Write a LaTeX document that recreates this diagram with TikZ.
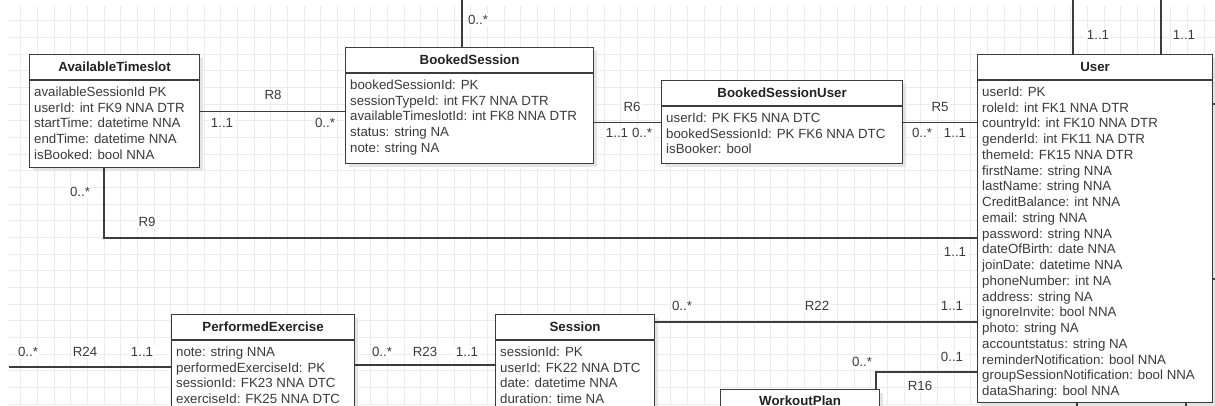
\documentclass[tikz,border=0pt]{standalone}
\usepackage{fontspec}
\setmainfont{Liberation Sans}
\usetikzlibrary{calc}
\definecolor{gridc}{HTML}{EBEBEB}
\definecolor{edgec}{HTML}{3C3C3C}
\definecolor{txtc}{HTML}{3A3A3A}
\definecolor{hdrc}{HTML}{222222}
\definecolor{shadc}{HTML}{E4E4E4}

% entity box: name, x, y, width, height, title, attribute rows
\newcommand\erbox[7]{%
  \fill[shade] ($(#2,#3)+(4,4)$) rectangle ++(#4,#5);
  \node[entity, minimum width=#4, minimum height=#5] (#1) at (#2,#3) {};
  \draw[conn] ($(#1.north west)+(0,26)$) -- ($(#1.north east)+(0,26)$);
  \node[hdr] (#1-h) at ($(#1.north)+(0,17.8)$) {#6};
  \foreach \t [count=\i from 0] in {#7}
    \node[attr] (#1-\i) at ($(#1.north west)+(5,{42.3+15.75*\i})$) {\t};
}

\begin{document}
\begin{tikzpicture}[x=1pt,y=-1pt,
  font=\fontsize{13.3}{15}\selectfont,
  gridline/.style={draw=gridc, line width=0.8pt},
  entity/.style={draw=edgec, line width=1.2pt, fill=white, rectangle, inner sep=0pt, anchor=north west},
  shade/.style={fill=shadc, draw=none},
  hdr/.style={font=\fontsize{13.3}{15}\selectfont\bfseries, text=hdrc, anchor=base, inner sep=0pt},
  attr/.style={text=txtc, anchor=base west, inner sep=0pt},
  conn/.style={draw=edgec, line width=1.2pt},
  lbl/.style={text=txtc, fill=white, inner sep=1.5pt, text height=9.5pt, text depth=0pt}]

\useasboundingbox (0,0) rectangle (1215,405);
\clip (0,0) rectangle (1215,405);
\fill[white] (0,0) rectangle (1215,405);

% background grid
\foreach \k in {0,...,72}
  \draw[gridline] ({20.7+16.667*\k},6) -- ({20.7+16.667*\k},405);
\foreach \k in {0,...,23}
  \draw[gridline] (9,{20.7+16.667*\k}) -- (1215,{20.7+16.667*\k});

% entities
\erbox{avail}{29}{54}{170}{113}{AvailableTimeslot}{availableSessionId PK, userId: int FK9 NNA DTR, startTime: datetime NNA, endTime: datetime NNA, isBooked: bool NNA}
\erbox{booked}{345}{47}{248}{116}{BookedSession}{bookedSessionId: PK, sessionTypeId: int FK7 NNA DTR, availableTimeslotId: int FK8 NNA DTR, status: string NA, note: string NA}
\erbox{bsu}{661}{80}{241}{83}{BookedSessionUser}{userId: PK FK5 NNA DTC, bookedSessionId: PK FK6 NNA DTC, isBooker: bool}
\erbox{user}{977}{54}{235}{348}{User}{userId: PK, roleId: int FK1 NNA DTR, countryId: int FK10 NNA DTR, genderId: int FK11 NA DTR, themeId: FK15 NNA DTR, firstName: string NNA, lastName: string NNA, CreditBalance: int NNA, email: string NNA, password: string NNA, dateOfBirth: date NNA, joinDate: datetime NNA, phoneNumber: int NA, address: string NA, ignoreInvite: bool NNA, photo: string NA, accountstatus: string NA, reminderNotification: bool NNA, groupSessionNotification: bool NNA, dataSharing: bool NNA}
\erbox{perf}{171}{314}{183}{120}{PerformedExercise}{note: string NNA, performedExerciseId: PK, sessionId: FK23 NNA DTC, exerciseId: FK25 NNA DTC}
\erbox{session}{495}{314}{159}{120}{Session}{sessionId: PK, userId: FK22 NNA DTC, date: datetime NNA, duration: time NA}
\fill[shade] (724,393) rectangle ++(159,100);
\node[entity, minimum width=159, minimum height=100] (workout) at (720,389) {};
\node[hdr] (workout-h) at ($(workout.north)+(0,16.5)$) {WorkoutPlan};

% relationship anchors
\coordinate (r9) at (104,238);
\coordinate (r22) at (0,322);
\coordinate (r16) at (876,372);
\coordinate (r23) at (0,365);
\coordinate (r24) at (9,367);
\coordinate (bsup) at (462,-3);
\coordinate (uup1) at (1073,-3);
\coordinate (uup2) at (1161,-3);
\coordinate (udn1) at (1077,410);
\coordinate (udn2) at (1186,410);
\coordinate (urt1) at (1220,104);
\coordinate (urt2) at (1220,279);

% connectors
\draw[conn] (avail.east) -- (avail.east -| booked.west);
\draw[conn] (bsu.west -| booked.east) -- (bsu.west);
\draw[conn] (bsu.east) -- (bsu.east -| user.west);
\draw[conn] (avail.south -| r9) -- (r9) -- (r9 -| user.west);
\draw[conn] (r22 -| session.east) -- (r22 -| user.west);
\draw[conn] (r16 -| user.west) -- (r16) -- (r16 |- workout.north);
\draw[conn] (r23 -| perf.east) -- (r23 -| session.west);
\draw[conn] (r24) -- (r24 -| perf.west);
\draw[conn] (bsup |- booked.north) -- (bsup);
\draw[conn] (uup1 |- user.north) -- (uup1);
\draw[conn] (uup2 |- user.north) -- (uup2);
\draw[conn] (udn1 |- user.south) -- (udn1);
\draw[conn] (udn2 |- user.south) -- (udn2);
\draw[conn] (urt1 -| user.east) -- (urt1);
\draw[conn] (urt2 -| user.east) -- (urt2);

% role names and multiplicities
\node[lbl] (l-r8) at (273,95) {R8};
\node[lbl] (l-r8a) at (222,123) {1..1};
\node[lbl] (l-r8b) at (325,123) {0..*};
\node[lbl] (l-r6) at (632,107) {R6};
\node[lbl] (l-r6a) at (617,133) {1..1};
\node[lbl] (l-r6b) at (642,133) {0..*};
\node[lbl] (l-r5) at (940,107) {R5};
\node[lbl] (l-r5a) at (922,133) {0..*};
\node[lbl] (l-r5b) at (955,133) {1..1};
\node[lbl] (l-r9a) at (80,192) {0..*};
\node[lbl] (l-r9) at (147,222) {R9};
\node[lbl] (l-r9b) at (955,252) {1..1};
\node[lbl] (l-r22a) at (682,306) {0..*};
\node[lbl] (l-r22) at (817,306) {R22};
\node[lbl] (l-r22b) at (952,306) {1..1};
\node[lbl] (l-r16a) at (862,362) {0..*};
\node[lbl] (l-r16b) at (952,357) {0..1};
\node[lbl] (l-r16) at (920,386) {R16};
\node[lbl] (l-r23a) at (382,352) {0..*};
\node[lbl] (l-r23) at (425,352) {R23};
\node[lbl] (l-r23b) at (467,352) {1..1};
\node[lbl] (l-r24a) at (28,352) {0..*};
\node[lbl] (l-r24) at (85,352) {R24};
\node[lbl] (l-r24b) at (142,352) {1..1};
\node[lbl] (l-top) at (478,20) {0..*};
\node[lbl] (l-u1) at (1098,35) {1..1};
\node[lbl] (l-u2) at (1184,35) {1..1};
\end{tikzpicture}
\end{document}
